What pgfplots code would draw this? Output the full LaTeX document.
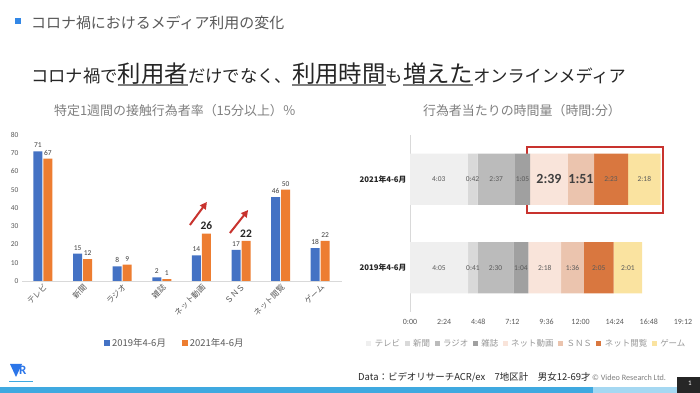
\documentclass[border=0pt]{standalone}
\usepackage{pgfplots}
\pgfplotsset{compat=1.18}
\usepackage{pgfplotstable}
\usetikzlibrary{arrows.meta}
\usepackage{fontspec}
\setmainfont{Carlito}
\newfontfamily\cjk{Noto Sans CJK JP}
\definecolor{cblue}{HTML}{4472C4}
\definecolor{corange}{HTML}{ED7D31}
\definecolor{tv}{HTML}{EFEFEF}
\definecolor{np}{HTML}{D9D9D9}
\definecolor{ra}{HTML}{BBBBBB}
\definecolor{mg}{HTML}{A0A0A0}
\definecolor{nv}{HTML}{F9E4DA}
\definecolor{sns}{HTML}{EBC4AE}
\definecolor{nb}{HTML}{D9773F}
\definecolor{gm}{HTML}{FAE3A0}
\definecolor{lgray}{HTML}{595959}
\definecolor{dgray}{HTML}{404040}
\definecolor{tgray}{HTML}{7F7F7F}
\definecolor{axgray}{HTML}{D9D9D9}
\definecolor{hd}{HTML}{262626}
\definecolor{redbox}{HTML}{C8332E}
\definecolor{stripe}{HTML}{3FA9E0}
\definecolor{stripe2}{HTML}{A5D8F2}

\pgfplotsset{
  sqleg/.style={legend image code/.code={\fill[##1] (0bp,-3bp) rectangle (6bp,3bp);}},
  sqlegs/.style={legend image code/.code={\fill[##1] (0bp,-2.5bp) rectangle (5bp,2.5bp);}},
}

\protected\def\Bl#1{{\fontsize{11.5}{12}\selectfont\bfseries\color{hd}#1}}
\protected\def\Br#1{{\fontsize{14}{15}\selectfont\bfseries\color{dgray}#1}}

\pgfplotstableread{
x a b bl
0 71 67 67
1 15 12 12
2 8 9 9
3 2 1 1
4 14 26 \Bl{26}
5 17 22 \Bl{22}
6 46 50 50
7 18 22 22
}\ratetab

\pgfplotstableread{
y tv tvl np npl ra ral mg mgl nv nvl sns snsl nb nbl gm gml
0 245 4:05 41 0:41 150 2:30 64 1:04 138 2:18 96 1:36 125 2:05 121 2:01
1 243 4:03 42 0:42 157 2:37 65 1:05 159 \Br{2:39} 111 \Br{1:51} 143 2:23 138 2:18
}\timetab

\newcommand\bigu[1]{{\fontsize{23.5}{26}\selectfont\setbox0\hbox{#1}\rlap{\color{tgray}\rule[-4bp]{\wd0}{1.6bp}}\box0}}

\newcommand\seg[4]{%
\addplot[fill=#1, draw=none, sqlegs]
  table[x=#2, y=y, meta=#3] {\timetab};
\addlegendentry{#4}}

\begin{document}
\begin{tikzpicture}
\fill[white] (0,0) rectangle (700bp,393bp);
\path[use as bounding box] (0,0) rectangle (700bp,393bp);

% header
\fill[stripe!80!blue] (15bp,{(393-24)*1bp}) rectangle (21bp,{(393-18)*1bp});
\node[anchor=west, inner sep=0, text=lgray] at (31bp,{(393-23)*1bp})
  {\cjk\fontsize{15}{16}\selectfont コロナ禍におけるメディア利用の変化};

% headline
\node[anchor=base west, inner sep=0, text=hd] at (31bp,{(393-82)*1bp})
  {\cjk\fontsize{17.4}{20}\selectfont コロナ禍で\bigu{利用者}だけでなく、\bigu{利用時間}も\bigu{増えた}{\fontsize{17.2}{20}\selectfont オンラインメディア}};

% chart titles
\node[text=tgray, inner sep=0] at (175bp,{(393-111)*1bp})
  {\cjk\fontsize{13}{14}\selectfont 特定1週間の接触行為者率（15分以上）％};
\node[text=tgray, inner sep=0] at (522bp,{(393-111)*1bp})
  {\cjk\fontsize{13}{14}\selectfont 行為者当たりの時間量（時間:分）};

% left chart
\begin{axis}[
  at={(22bp,112bp)}, anchor=south west, scale only axis,
  width=320bp, height=146bp,
  ybar=1bp, bar width=9bp,
  ymin=0, ymax=80, ytick={0,10,...,80},
  xmin=-0.53, xmax=7.55, xtick={0,...,7},
  xticklabels={テレビ,新聞,ラジオ,雑誌,ネット動画,ＳＮＳ,ネット閲覧,ゲーム},
  axis x line*=bottom, axis y line*=left,
  x axis line style={draw=axgray, line width=0.7bp},
  y axis line style={draw=none},
  major tick length=0pt,
  /pgf/number format/assume math mode=true,
  yticklabel style={font=\fontsize{7.5}{8}\selectfont, text=lgray},
  xticklabel style={rotate=45, anchor=north east, font=\cjk\fontsize{8}{9}\selectfont, text=lgray, inner sep=1.5bp},
  clip=false,
  every node near coord/.append style={font=\fontsize{7.5}{8}\selectfont, text=dgray},
  legend style={at={(0.478,-0.425)}, anchor=center, draw=none, fill=none,
    legend columns=-1, font=\cjk\fontsize{9.5}{10}\selectfont, text=lgray,
    /tikz/every even column/.append style={column sep=14bp}},
]
\addplot[fill=cblue, draw=none, nodes near coords, sqleg]
  table[x=x, y=a] {\ratetab};
\addlegendentry{2019年4-6月}
\addplot[fill=corange, draw=none, point meta=explicit symbolic, nodes near coords, sqleg]
  table[x=x, y=b, meta=bl] {\ratetab};
\addlegendentry{2021年4-6月}
\draw[-{Triangle[length=7bp,width=7bp]}, line width=2bp, redbox] (axis cs:3.71,30.7) -- (axis cs:4.14,43.3);
\draw[-{Triangle[length=7bp,width=7bp]}, line width=2bp, redbox] (axis cs:4.72,26.3) -- (axis cs:5.18,38.9);
\end{axis}

% right chart
\begin{axis}[
  at={(410bp,81bp)}, anchor=south west, scale only axis,
  width=273bp, height=177bp,
  xbar stacked, bar width=51bp,
  xmin=0, xmax=1152, xtick={0,144,...,1152},
  xticklabels={0:00,2:24,4:48,7:12,9:36,12:00,14:24,16:48,19:12},
  ymin=-0.5, ymax=1.5, ytick={0,1},
  yticklabels={{\cjk\bfseries 2019年4-6月},{\cjk\bfseries 2021年4-6月}},
  axis x line*=bottom, axis y line*=left,
  x axis line style={draw=none},
  y axis line style={draw=axgray, line width=0.7bp},
  major tick length=0pt,
  xticklabel style={font=\fontsize{8}{9}\selectfont, text=lgray, yshift=-4bp},
  yticklabel style={font=\fontsize{7.8}{9}\selectfont, text=hd},
  clip=false,
  point meta=explicit symbolic, nodes near coords,
  every node near coord/.append style={font=\fontsize{7.5}{8}\selectfont, text=lgray},
  legend style={at={(0.428,-0.18)}, anchor=center, draw=none, fill=none,
    legend columns=-1, font=\cjk\fontsize{8.5}{10}\selectfont, text=tgray!80,
    /tikz/every odd column/.append style={column sep=1.5bp},
    /tikz/every even column/.append style={column sep=2.5bp}},
]
\seg{tv}{tv}{tvl}{テレビ}
\seg{np}{np}{npl}{新聞}
\seg{ra}{ra}{ral}{ラジオ}
\seg{mg}{mg}{mgl}{雑誌}
\seg{nv}{nv}{nvl}{ネット動画}
\seg{sns}{sns}{snsl}{ＳＮＳ}
\seg{nb}{nb}{nbl}{ネット閲覧}
\seg{gm}{gm}{gml}{ゲーム}
\draw[redbox, line width=2bp] (axis cs:494,0.62) rectangle (axis cs:1068,1.365);
\end{axis}

% footer
\fill[stripe] (0,0) rectangle (593bp,6bp);
\fill[stripe2] (593bp,0) rectangle (677bp,6bp);
\fill[hd] (677bp,0) rectangle (700bp,16bp);
\node[text=white, inner sep=0] at (690bp,10bp) {\fontsize{7}{8}\selectfont 1};
\node[anchor=base west, inner sep=0, text=hd] at (358bp,{(393-380)*1bp})
  {\cjk\fontsize{9.5}{10}\selectfont Data：ビデオリサーチACR/ex　7地区計　男女12-69才};
\node[anchor=base west, inner sep=0, text=tgray] at (592bp,{(393-380)*1bp})
  {\fontsize{8.2}{9}\selectfont © Video Research Ltd.};
% logo
\fill[stripe!70!blue] (10bp,{(393-364)*1bp}) -- (22bp,{(393-364)*1bp}) -- (16bp,{(393-377)*1bp}) -- cycle;
\node[text=stripe!70!blue, inner sep=0, anchor=west] at (19bp,{(393-370)*1bp}) {\fontsize{13}{13}\selectfont\bfseries R};
\draw[stripe, line width=0.4bp] (9bp,{(393-381)*1bp}) -- (33bp,{(393-381)*1bp});
\end{tikzpicture}
\end{document}
